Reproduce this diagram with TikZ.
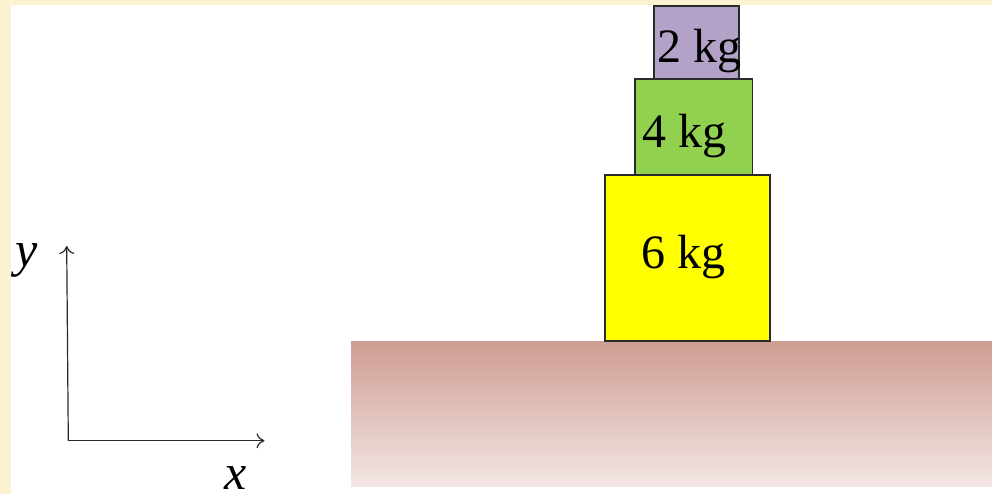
\documentclass[tikz,border=0pt]{standalone}
\usepackage{fontspec}
\setmainfont{Liberation Serif}
\usetikzlibrary{arrows.meta}
\definecolor{cream}{HTML}{FCF1D0}
\definecolor{groundtop}{HTML}{CF9D92}
\definecolor{groundbot}{HTML}{F2E6E4}
\definecolor{blockyellow}{RGB}{255,255,0}
\definecolor{blockgreen}{HTML}{92D050}
\definecolor{blockpurple}{HTML}{B3A2C7}
\definecolor{edge}{HTML}{2A2A2A}
\tikzset{
  block/.style={draw=edge, line width=1.3pt},
  masslabel/.style={inner sep=0pt, anchor=base, font=\fontsize{48}{58}\selectfont},
  axislabel/.style={inner sep=0pt, anchor=base, font=\fontsize{50}{60}\selectfont\itshape},
  axis/.style={draw=edge, line width=1.2pt, -{To[length=8pt,width=15pt]}}
}
\begin{document}
\begin{tikzpicture}[x=1pt,y=1pt]
\useasboundingbox (0,0) rectangle (992,-494);
\fill[cream] (0,0) rectangle (992,-494);
\fill[white] (11,-5) rectangle (992,-494);
% ground
\shade[top color=groundtop, bottom color=groundbot] (351,-341) rectangle (992,-486);
% blocks
\draw[block, fill=blockyellow] (605,-175) rectangle (770,-341);
\draw[block, fill=blockgreen] (635,-79) rectangle (752.5,-175);
\draw[block, fill=blockpurple] (654,-6) rectangle (739,-79);
\node[masslabel] (m2) at (699.5,-63) {2 kg};
\node[masslabel] (m4) at (684,-148) {4 kg};
\node[masslabel] (m6) at (683.5,-268) {6 kg};
% axes
\coordinate (o) at (68.3,-440.7);
\coordinate (ytip) at (66.7,-246);
\coordinate (xtip) at (264.5,-440.7);
\draw[axis] (o) -- (ytip);
\draw[axis] (o) -- (xtip);
\node[axislabel] (ylab) at (27,-266) {y};
\node[axislabel] (xlab) at (236,-489) {x};
\end{tikzpicture}
\end{document}
